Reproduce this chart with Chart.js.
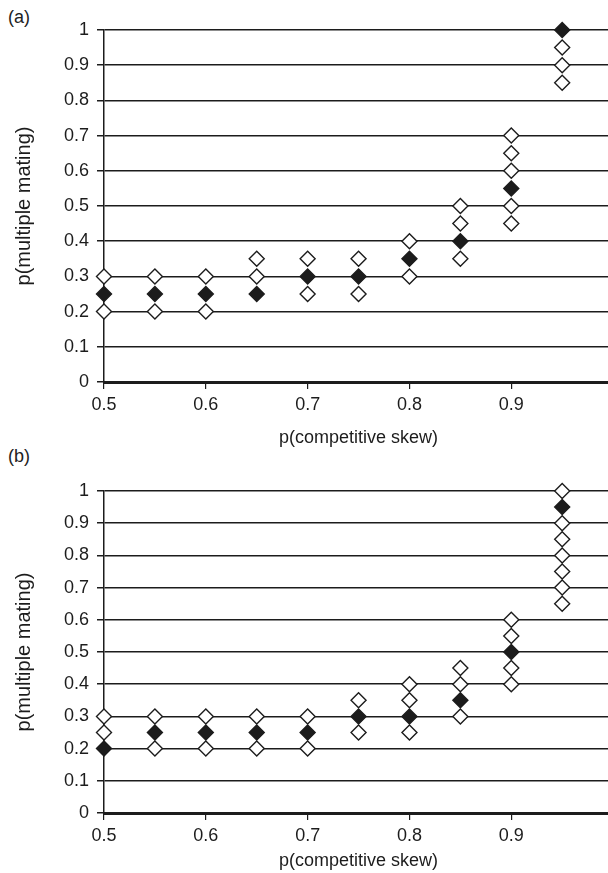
<!DOCTYPE html>
<html>
<head>
<meta charset="utf-8">
<script src="https://cdn.jsdelivr.net/npm/chart.js@4.4.1/dist/chart.umd.min.js"></script>
<style>
  html, body { margin: 0; padding: 0; background: #fff; overflow: hidden; }
  body { width: 608px; height: 873px; position: relative; }
  canvas { position: absolute; left: 0; }
  #chart-a { top: 0; }
  #chart-b { top: 450px; }
  .panel-label { position: absolute; font: 18px "Liberation Sans", Arial, sans-serif; color: #222; }
</style>
</head>
<body>
<div class="panel-label" style="left:8px; top:7px;">(a)</div>
<div class="panel-label" style="left:8px; top:446px;">(b)</div>
<canvas id="chart-a" width="622" height="450"></canvas>
<canvas id="chart-b" width="622" height="423"></canvas>
<script>
// p(competitive skew) values on the x axis
const skew = [0.5, 0.55, 0.6, 0.65, 0.7, 0.75, 0.8, 0.85, 0.9, 0.95];

// panel (a): filled diamonds and the open diamonds at each skew
const meanA = [0.25, 0.25, 0.25, 0.25, 0.3, 0.3, 0.35, 0.4, 0.55, 1.0];
const openA = [
  [0.3, 0.2],
  [0.3, 0.2],
  [0.3, 0.2],
  [0.35, 0.3],
  [0.35, 0.25],
  [0.35, 0.25],
  [0.4, 0.3],
  [0.5, 0.45, 0.35],
  [0.7, 0.65, 0.6, 0.5, 0.45],
  [0.95, 0.9, 0.85]
];

// panel (b)
const meanB = [0.2, 0.25, 0.25, 0.25, 0.25, 0.3, 0.3, 0.35, 0.5, 0.95];
const openB = [
  [0.3, 0.25],
  [0.3, 0.2],
  [0.3, 0.2],
  [0.3, 0.2],
  [0.3, 0.2],
  [0.35, 0.25],
  [0.4, 0.35, 0.25],
  [0.45, 0.4, 0.3],
  [0.6, 0.55, 0.45, 0.4],
  [1.0, 0.9, 0.85, 0.8, 0.75, 0.7, 0.65]
];

const xTitle = 'p(competitive skew)';
const yTitle = 'p(multiple mating)';

const FONT = '"Liberation Sans", Arial, sans-serif';
const INK = '#1c1c1c';

function points(ys) {
  return skew.map((x, i) => ({ x: x, y: ys[i] }));
}

function openPoints(lists) {
  const out = [];
  lists.forEach((ys, i) => ys.forEach(y => out.push({ x: skew[i], y: y })));
  return out;
}

function makeChart(id, mean, open, padTop, xHeight) {
  const ctx = document.getElementById(id);
  return new Chart(ctx, {
    type: 'scatter',
    data: {
      datasets: [{
        data: openPoints(open),
        pointStyle: 'rectRot',
        pointRadius: 7.5,
        pointBackgroundColor: '#fff',
        pointBorderColor: INK,
        pointBorderWidth: 1.4,
        clip: false
      }, {
        data: points(mean),
        pointStyle: 'rectRot',
        pointRadius: 7.5,
        pointBackgroundColor: INK,
        pointBorderColor: INK,
        pointBorderWidth: 1.4,
        clip: false
      }]
    },
    options: {
      responsive: false,
      animation: false,
      devicePixelRatio: 1,
      layout: { padding: { top: padTop, left: 0, right: 0, bottom: 0 } },
      plugins: {
        legend: { display: false },
        tooltip: { enabled: false }
      },
      scales: {
        x: {
          type: 'linear',
          min: 0.5,
          max: 1.0,
          afterFit: (scale) => { scale.height = xHeight; },
          border: { color: INK, width: 3 },
          grid: { drawOnChartArea: false, drawTicks: true, tickLength: 7, color: INK, lineWidth: 1.2 },
          ticks: {
            stepSize: 0.1,
            padding: 5,
            color: INK,
            font: { family: FONT, size: 18 },
            maxRotation: 0,
            autoSkip: false,
            callback: (v) => (v > 0.95 ? '' : (+v.toFixed(1)).toString())
          },
          title: {
            display: true,
            text: xTitle,
            color: INK,
            font: { family: FONT, size: 18 },
            padding: { top: 0, bottom: 1 }
          }
        },
        y: {
          type: 'linear',
          min: 0,
          max: 1,
          afterFit: (scale) => { scale.width = 104; },
          border: { color: INK, width: 1.5 },
          grid: { color: INK, lineWidth: 1.5, tickLength: 7 },
          ticks: {
            stepSize: 0.1,
            padding: 8,
            color: INK,
            font: { family: FONT, size: 18 },
            callback: (v) => (+v.toFixed(1)).toString()
          },
          title: {
            display: true,
            text: yTitle,
            color: INK,
            font: { family: FONT, size: 20 },
            padding: { top: 12, bottom: 0 }
          }
        }
      }
    }
  });
}

makeChart('chart-a', meanA, openA, 30, 68);
makeChart('chart-b', meanB, openB, 41, 60);
</script>
</body>
</html>
